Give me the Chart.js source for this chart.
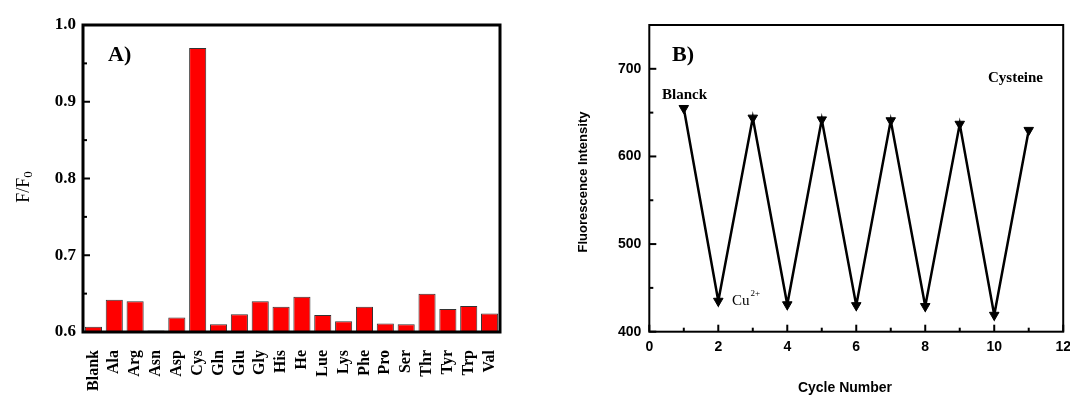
<!DOCTYPE html>
<html>
<head>
<meta charset="utf-8">
<script src="https://cdn.jsdelivr.net/npm/chart.js@4.4.1/dist/chart.umd.min.js"></script>
<style>
  body { margin: 0; background: #fff; overflow: hidden; }
  #wrap { position: relative; width: 1070px; height: 396px; overflow: hidden; }
  #chartA { position: absolute; left: 0; top: 0; }
  #chartB { position: absolute; left: 540px; top: 0; }
</style>
</head>
<body>
<div id="wrap">
  <canvas id="chartA" width="530" height="396"></canvas>
  <canvas id="chartB" width="538" height="396"></canvas>
</div>
<script>
// panel A - amino acid selectivity
let aminoAcids = ['Blank', 'Ala', 'Arg', 'Asn', 'Asp', 'Cys', 'Gln', 'Glu', 'Gly', 'His',
    'He', 'Lue', 'Lys', 'Phe', 'Pro', 'Ser', 'Thr', 'Tyr', 'Trp', 'Val'];
let ratioValues = [0.607, 0.642, 0.640, 0.602, 0.619, 0.970, 0.610, 0.623, 0.640, 0.633,
    0.646, 0.622, 0.614, 0.633, 0.611, 0.610, 0.650, 0.630, 0.634, 0.624];
let ratioTicks = [0.6, 0.7, 0.8, 0.9, 1.0];

// panel B - on/off cycles
let cycleNumbers = [1, 2, 3, 4, 5, 6, 7, 8, 9, 10, 11];
let intensityValues = [655, 435, 644, 431, 642, 430, 641, 429, 637, 419, 630];
let cycleTicks = [0, 2, 4, 6, 8, 10, 12];
let intensityTicks = [400, 500, 600, 700];

const serif = '"Liberation Serif", "DejaVu Serif", serif';
const sans = '"Liberation Sans", Arial, sans-serif';

// draws inward ticks (major + minor) and the frame box
function frameAndTicks(opts) {
    return {
        id: 'frameTicks',
        afterDraw(chart) {
            const c = chart.ctx;
            const a = chart.chartArea;
            c.save();
            c.strokeStyle = '#000';
            c.lineWidth = 2;
            if (opts.y) {
                const ys = chart.scales.y;
                const vals = ys.ticks.map(t => t.value);
                vals.forEach(v => {
                    const p = ys.getPixelForValue(v);
                    c.beginPath(); c.moveTo(a.left, p); c.lineTo(a.left + 7, p); c.stroke();
                });
                for (let i = 0; i < vals.length - 1; i++) {
                    const p = ys.getPixelForValue((vals[i] + vals[i + 1]) / 2);
                    c.beginPath(); c.moveTo(a.left, p); c.lineTo(a.left + 4, p); c.stroke();
                }
            }
            if (opts.x) {
                const xs = chart.scales.x;
                const vals = xs.ticks.map(t => t.value);
                vals.forEach(v => {
                    const p = xs.getPixelForValue(v);
                    c.beginPath(); c.moveTo(p, a.bottom); c.lineTo(p, a.bottom - 7); c.stroke();
                });
                for (let i = 0; i < vals.length - 1; i++) {
                    const p = xs.getPixelForValue((vals[i] + vals[i + 1]) / 2);
                    c.beginPath(); c.moveTo(p, a.bottom); c.lineTo(p, a.bottom - 4); c.stroke();
                }
            }
            c.lineWidth = opts.frame;
            c.strokeRect(a.left, a.top, a.right - a.left, a.bottom - a.top);
            c.restore();
            if (opts.text) opts.text(chart, c, a);
        }
    };
}

new Chart(document.getElementById('chartA').getContext('2d'), {
    type: 'bar',
    data: {
        labels: aminoAcids,
        datasets: [{
            data: ratioValues,
            backgroundColor: '#ff0000',
            borderColor: '#333333',
            borderWidth: 1,
            barPercentage: 0.82,
            categoryPercentage: 1.0
        }]
    },
    options: {
        responsive: false,
        animation: false,
        layout: { padding: { top: 25, right: 30, left: 0, bottom: 0 } },
        plugins: { legend: { display: false }, tooltip: { enabled: false } },
        scales: {
            x: {
                grid: { display: false, drawTicks: false },
                border: { display: false },
                ticks: {
                    color: '#000', minRotation: 90, maxRotation: 90, padding: 18,
                    autoSkip: false,
                    font: { family: serif, size: 16, weight: 'bold' }
                },
                afterFit: s => { s.height = 64; }
            },
            y: {
                min: 0.6, max: 1.0,
                grid: { display: false, drawTicks: false },
                border: { display: false },
                afterBuildTicks: s => { s.ticks = ratioTicks.map(v => ({ value: v })); },
                ticks: {
                    color: '#000', padding: 7,
                    font: { family: serif, size: 17, weight: 'bold' },
                    callback: v => v.toFixed(1)
                },
                afterFit: s => { s.width = 83; }
            }
        }
    },
    plugins: [frameAndTicks({
        y: true, x: false, frame: 3,
        text: (chart, c, a) => {
            c.save();
            c.fillStyle = '#000';
            c.font = 'bold 22px ' + serif;
            c.textBaseline = 'middle';
            c.fillText('A)', 108, 55);
            // y title F/F0
            c.translate(24, 187);
            c.rotate(-Math.PI / 2);
            c.font = '18px ' + serif;
            c.textAlign = 'left';
            const w1 = c.measureText('F/F').width;
            c.font = '13px ' + serif;
            const w2 = c.measureText('0').width;
            const x0 = -(w1 + w2) / 2;
            c.font = '18px ' + serif;
            c.fillText('F/F', x0, 0);
            c.font = '13px ' + serif;
            c.fillText('0', x0 + w1, 5);
            c.restore();
        }
    })]
});

new Chart(document.getElementById('chartB').getContext('2d'), {
    type: 'line',
    data: {
        datasets: [{
            data: cycleNumbers.map((x, i) => ({ x: x, y: intensityValues[i] })),
            borderColor: '#000',
            backgroundColor: '#000',
            borderWidth: 2.5,
            tension: 0,
            pointStyle: 'triangle',
            rotation: 180,
            pointRadius: 5.5,
            pointBorderWidth: 1
        }]
    },
    options: {
        responsive: false,
        animation: false,
        layout: { padding: { top: 25, right: 0, left: 0, bottom: 0 } },
        plugins: { legend: { display: false }, tooltip: { enabled: false } },
        scales: {
            x: {
                type: 'linear', min: 0, max: 12,
                grid: { display: false, drawTicks: false },
                border: { display: false },
                afterBuildTicks: s => { s.ticks = cycleTicks.map(v => ({ value: v })); },
                ticks: {
                    color: '#000', padding: 7, maxRotation: 0,
                    font: { family: sans, size: 14, weight: 'bold' }
                },
                afterFit: s => { s.height = 64.3; }
            },
            y: {
                min: 400, max: 750,
                grid: { display: false, drawTicks: false },
                border: { display: false },
                afterBuildTicks: s => { s.ticks = intensityTicks.map(v => ({ value: v })); },
                ticks: {
                    color: '#000', padding: 8,
                    font: { family: sans, size: 14, weight: 'bold' }
                },
                afterFit: s => { s.width = 109.3; }
            }
        }
    },
    plugins: [frameAndTicks({
        y: true, x: true, frame: 2,
        text: (chart, c, a) => {
            c.save();
            c.fillStyle = '#000';
            c.textBaseline = 'middle';
            c.font = 'bold 22px ' + serif;
            c.fillText('B)', 132, 55);
            c.font = 'bold 15px ' + serif;
            c.fillText('Blanck', 122, 95);
            c.fillText('Cysteine', 448, 78);
            c.font = '15px ' + serif;
            c.fillText('Cu', 192, 301);
            const w = c.measureText('Cu').width;
            c.font = '9px ' + serif;
            c.fillText('2+', 192 + w + 1, 294);
            c.font = 'bold 14px ' + sans;
            c.textAlign = 'center';
            c.fillText('Cycle Number', 305, 388);
            c.translate(43, 182);
            c.rotate(-Math.PI / 2);
            c.font = 'bold 13px ' + sans;
            c.fillText('Fluorescence Intensity', 0, 0);
            c.restore();
        }
    })]
});
</script>
</body>
</html>
